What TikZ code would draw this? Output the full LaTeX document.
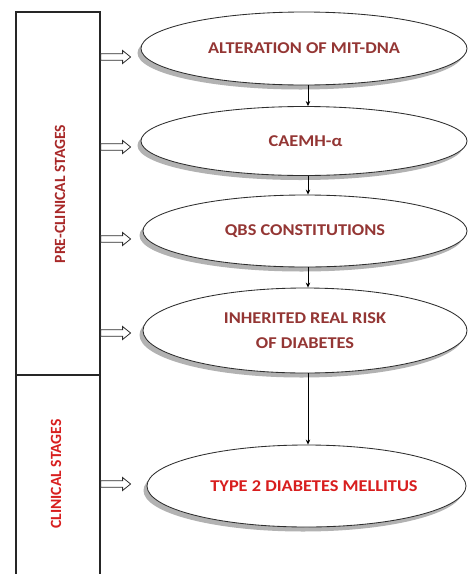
\documentclass[tikz,border=0pt]{standalone}
\usepackage{fontspec}
\setmainfont{Carlito}
\usetikzlibrary{shapes.geometric,arrows.meta,shadows}

\definecolor{stagered}{HTML}{943634}
\definecolor{brightred}{HTML}{D81E1E}
\definecolor{sidered}{HTML}{A82828}
\definecolor{linegray}{HTML}{2E2E2E}

\newcommand{\wide}[1]{\scalebox{1.11}[1]{#1}}
% hollow block arrow starting at a named point on the frame
\newcommand{\blockarrow}[1]{%
  \draw[hollowarrow] (#1) ++(0,3.3) -- ++(22,0) -- ++(0,3.2) -- ++(8,-6.5)
    -- ++(-8,-6.5) -- ++(0,3.2) -- ++(-22,0) -- cycle;}

\tikzset{
  stagebox/.style={ellipse, draw=linegray, line width=0.85pt, fill=white,
    inner sep=0pt, align=center,
    font=\fontsize{16.5}{25}\selectfont\bfseries, text=stagered,
    drop shadow={shadow xshift=-3.5pt, shadow yshift=-4.5pt, fill=black!30, opacity=1}},
  hollowarrow/.style={draw=linegray, line width=0.8pt, fill=white, line join=miter},
  flowline/.style={draw=black, line width=0.8pt, -{Stealth[length=5pt,width=4.5pt]}},
  sidelabel/.style={rotate=90, font=\fontsize{15.6}{18}\selectfont\bfseries},
  frame/.style={draw=black!85, line width=1.2pt}
}

\begin{document}
\begin{tikzpicture}[x=1pt,y=1pt]
\useasboundingbox (0,0) rectangle (467,-574);
\fill[white] (0,0) rectangle (467,-574);

% side frame with the two stage columns
\coordinate (ftl) at (16,-12);
\coordinate (ftr) at (100,-12);
\coordinate (fbl) at (16,-576);
\coordinate (fbr) at (100,-576);
\coordinate (dl) at (16,-375);
\coordinate (dr) at (100,-375);
\draw[frame] (fbl) -- (ftl) -- (ftr) -- (fbr);
\draw[frame] (dl) -- (dr);

\node[sidelabel, text=sidered] (pre) at (60,-194) {PRE-CLINICAL STAGES};
\node[sidelabel, text=brightred] (cli) at (56,-474) {CLINICAL STAGES};

% stages
\node[stagebox, minimum width=326pt, minimum height=73pt] (e1) at (304,-48.5) {\wide{ALTERATION OF MIT-DNA}};
\node[stagebox, minimum width=326pt, minimum height=69pt] (e2) at (304,-141) {\hspace*{3pt}\wide{CAEMH-α}};
\node[stagebox, minimum width=324pt, minimum height=72pt] (e3) at (305,-231) {\wide{QBS CONSTITUTIONS}};
\node[stagebox, minimum width=324pt, minimum height=85pt] (e4) at (305,-330.5) {\wide{INHERITED REAL RISK}\\\wide{OF DIABETES}};
\node[stagebox, minimum width=319pt, minimum height=82pt, text=brightred] (e5) at (306.5,-486) {\hspace*{15pt}\wide{TYPE 2 DIABETES MELLITUS}};

% hollow pointers from the frame to each stage
\coordinate (p1) at (100.6,-57);
\coordinate (p2) at (100.6,-147);
\coordinate (p3) at (100.6,-239);
\coordinate (p4) at (100.6,-333);
\coordinate (p5) at (100.6,-484);
\blockarrow{p1}
\blockarrow{p2}
\blockarrow{p3}
\blockarrow{p4}
\blockarrow{p5}

% sequence between stages
\draw[flowline] ([xshift=4pt]e1.south) -- ([xshift=4pt]e2.north);
\draw[flowline] ([xshift=4pt]e2.south) -- ([xshift=3pt]e3.north);
\draw[flowline] ([xshift=3pt]e3.south) -- ([xshift=3pt]e4.north);
\draw[flowline] ([xshift=3pt]e4.south) -- ([xshift=1.5pt]e5.north);
\end{tikzpicture}
\end{document}
